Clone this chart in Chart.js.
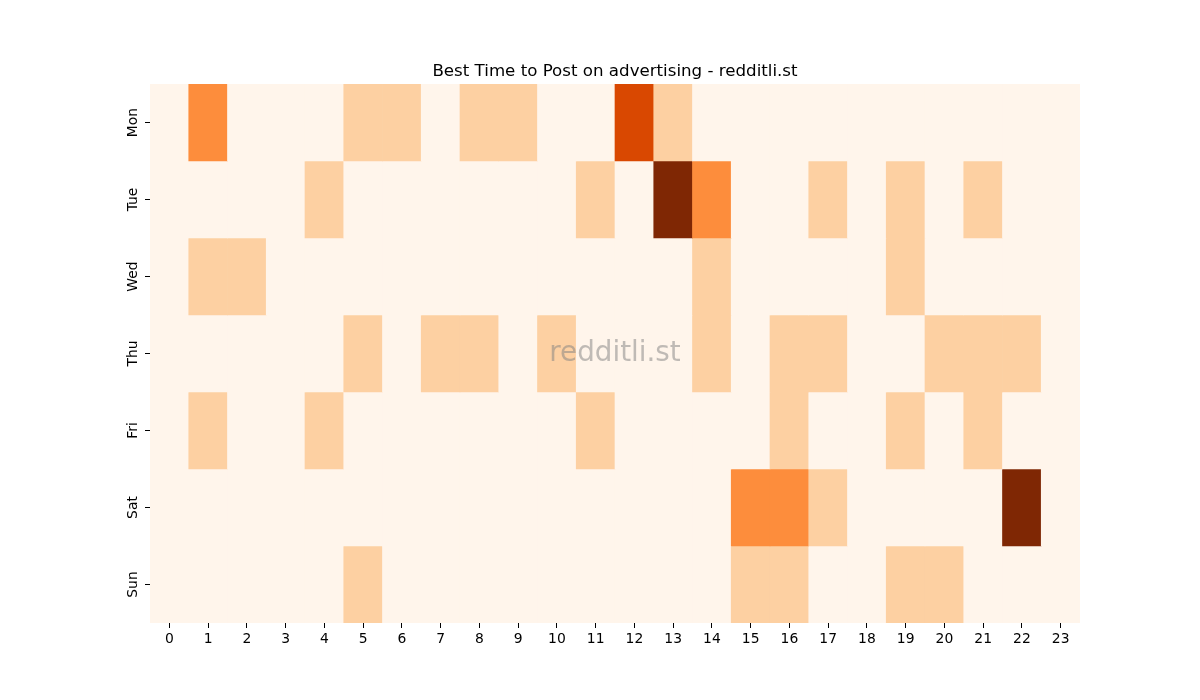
<!DOCTYPE html>
<html>
<head>
<meta charset="utf-8">
<script src="https://cdn.jsdelivr.net/npm/chart.js@4"></script>
<style>
html,body{margin:0;padding:0;background:#fff;}
#wrap{width:1200px;height:700px;}
</style>
</head>
<body>
<div id="wrap"><canvas id="c" width="1200" height="700"></canvas></div>
<script>
const hours = ['0','1','2','3','4','5','6','7','8','9','10','11','12','13','14','15','16','17','18','19','20','21','22','23'];
const days = ['Mon','Tue','Wed','Thu','Fri','Sat','Sun'];
const mon = [0,2,0,0,0,1,1,0,1,1,0,0,3,1,0,0,0,0,0,0,0,0,0,0];
const tue = [0,0,0,0,1,0,0,0,0,0,0,1,0,4,2,0,0,1,0,1,0,1,0,0];
const wed = [0,1,1,0,0,0,0,0,0,0,0,0,0,0,1,0,0,0,0,1,0,0,0,0];
const thu = [0,0,0,0,0,1,0,1,1,0,1,0,0,0,1,0,1,1,0,0,1,1,1,0];
const fri = [0,1,0,0,1,0,0,0,0,0,0,1,0,0,0,0,1,0,0,1,0,1,0,0];
const sat = [0,0,0,0,0,0,0,0,0,0,0,0,0,0,0,2,2,1,0,0,0,0,4,0];
const sun = [0,0,0,0,0,1,0,0,0,0,0,0,0,0,0,1,1,0,0,1,1,0,0,0];
const grid = [mon,tue,wed,thu,fri,sat,sun];
const palette = ['#fff5eb','#fdd0a2','#fd8d3c','#d94801','#7f2704'];
const titleText = 'Best Time to Post on advertising - redditli.st';

const datasets = days.map((d, i) => ({
  label: d,
  data: hours.map(() => 1),
  backgroundColor: ctx => palette[grid[i][ctx.dataIndex]],
  borderWidth: 0,
  barPercentage: 1.0,
  categoryPercentage: 1.0,
  stack: 's'
}));

const extras = {
  id: 'extras',
  afterDatasetsDraw(chart) {
    const {ctx, chartArea} = chart;
    ctx.save();
    ctx.font = '27.8px "DejaVu Sans"';
    ctx.fillStyle = 'rgba(128,128,128,0.5)';
    ctx.textAlign = 'center';
    ctx.textBaseline = 'middle';
    ctx.fillText('redditli.st', (chartArea.left + chartArea.right) / 2, (chartArea.top + chartArea.bottom) / 2);
    ctx.restore();
  },
  afterDraw(chart) {
    const {ctx, chartArea} = chart;
    const ys = chart.scales.y;
    ctx.save();
    ctx.fillStyle = '#000';
    ctx.font = '16.67px "DejaVu Sans"';
    ctx.textAlign = 'center';
    ctx.textBaseline = 'alphabetic';
    ctx.fillText(titleText, (chartArea.left + chartArea.right) / 2, chartArea.top - 8);
    ctx.font = '13.9px "DejaVu Sans"';
    ctx.textBaseline = 'middle';
    ys.ticks.forEach((t, i) => {
      const y = ys.getPixelForValue(t.value);
      ctx.save();
      ctx.translate(chartArea.left - 17, y);
      ctx.rotate(-Math.PI / 2);
      ctx.fillText(days[i], 0, 0);
      ctx.restore();
    });
    ctx.restore();
  }
};

new Chart(document.getElementById('c'), {
  type: 'bar',
  data: { labels: hours, datasets },
  plugins: [extras],
  options: {
    responsive: false,
    animation: false,
    devicePixelRatio: 1,
    layout: { padding: { left: 100, right: 120, top: 84, bottom: 47 } },
    plugins: {
      legend: { display: false },
      tooltip: { enabled: false },
      title: { display: false }
    },
    scales: {
      x: {
        stacked: true,
        offset: true,
        border: { display: false },
        grid: { offset: false, drawOnChartArea: false, drawTicks: true, tickLength: 5, color: '#000', tickWidth: 1 },
        ticks: { color: '#000', font: { family: 'DejaVu Sans', size: 13.9 }, maxRotation: 0, minRotation: 0, autoSkip: false, padding: 3 },
        afterFit: s => { s.height = 30; }
      },
      y: {
        stacked: true,
        reverse: true,
        min: 0,
        max: 7,
        border: { display: false },
        grid: { drawOnChartArea: false, drawTicks: true, tickLength: 5, color: '#000', tickWidth: 1 },
        afterBuildTicks: s => { s.ticks = days.map((d, i) => ({ value: i + 0.5 })); },
        ticks: {
          display: false,
          callback: (v) => days[Math.floor(v)]
        },
        afterFit: s => { s.width = 50; }
      }
    }
  }
});
</script>
</body>
</html>
